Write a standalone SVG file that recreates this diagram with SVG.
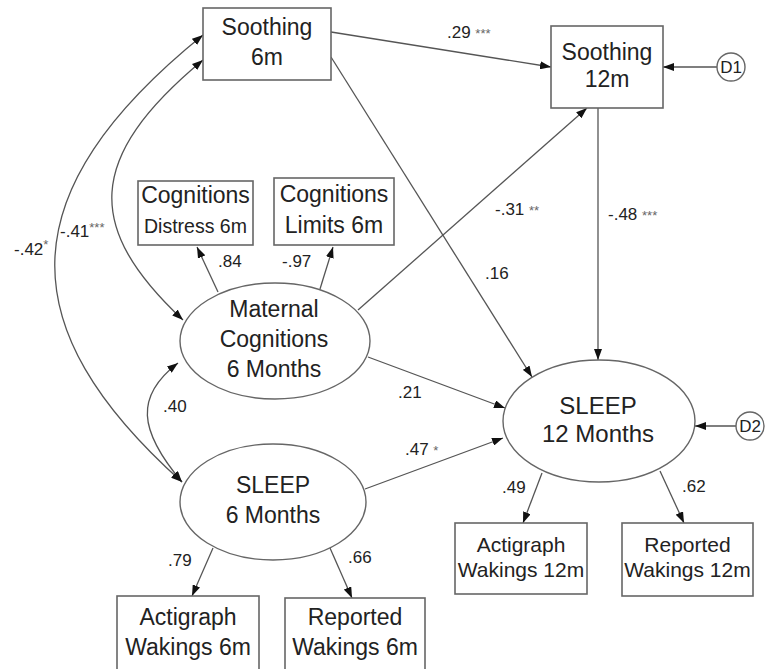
<svg xmlns="http://www.w3.org/2000/svg" width="765" height="669" viewBox="0 0 765 669">
<defs>
<marker id="ah" viewBox="0 0 11 8" refX="11" refY="4" markerWidth="11" markerHeight="8" markerUnits="userSpaceOnUse" orient="auto-start-reverse">
<path d="M0,0 L11,4 L0,8 z" fill="#111"/>
</marker>
<style>
.bx{fill:#fff;stroke:#666;stroke-width:1.6}
.el{fill:#fff;stroke:#666;stroke-width:1.4}
.ar{fill:none;stroke:#555;stroke-width:1.3;marker-end:url(#ah)}
.dar{fill:none;stroke:#555;stroke-width:1.3;marker-start:url(#ah);marker-end:url(#ah)}
text{font-family:"Liberation Sans",Arial,sans-serif;fill:#222}
.t{font-size:23px;text-anchor:middle}
.ts{font-size:21px;text-anchor:middle}
.lb{font-size:17px}
.st{font-size:13px;fill:#666}
</style>
</defs>
<rect width="765" height="669" fill="#fff"/>
<g id="connectors">
<line class="ar" x1="331" y1="32" x2="551" y2="67"/>
<line class="ar" x1="331" y1="57" x2="532" y2="377"/>
<line class="ar" x1="358" y1="310" x2="587" y2="108"/>
<line class="ar" x1="598" y1="108" x2="598" y2="360"/>
<line class="ar" x1="368" y1="357" x2="505" y2="408"/>
<line class="ar" x1="365" y1="489" x2="503" y2="438"/>
<line class="ar" x1="717" y1="67" x2="663" y2="67"/>
<line class="ar" x1="736" y1="426" x2="695" y2="426"/>
<line class="ar" x1="218" y1="292" x2="197" y2="247"/>
<line class="ar" x1="320" y1="289" x2="333" y2="247"/>
<line class="ar" x1="213" y1="548" x2="192" y2="596"/>
<line class="ar" x1="330" y1="548" x2="352" y2="598"/>
<line class="ar" x1="542" y1="473" x2="523" y2="523"/>
<line class="ar" x1="660" y1="471" x2="684" y2="523"/>
<path class="dar" d="M203,35 C9,192 9,327 182,482"/>
<path class="dar" d="M203,60 C85,158 85,228 183,320"/>
<path class="dar" d="M178,363 C135,396 138,430 182,482"/>
</g>
<g id="labels">
<text class="lb" x="447" y="38">.29 <tspan class="st">***</tspan></text>
<text class="lb" x="495" y="215">-.31 <tspan class="st">**</tspan></text>
<text class="lb" x="608" y="220">-.48 <tspan class="st">***</tspan></text>
<text class="lb" x="485" y="279">.16</text>
<text class="lb" x="398" y="398">.21</text>
<text class="lb" x="405" y="455">.47 <tspan class="st">*</tspan></text>
<text class="lb" x="218" y="267">.84</text>
<text class="lb" x="282" y="267">-.97</text>
<text class="lb" x="163" y="412">.40</text>
<text class="lb" x="168" y="566">.79</text>
<text class="lb" x="348" y="563">.66</text>
<text class="lb" x="502" y="493">.49</text>
<text class="lb" x="682" y="492">.62</text>
<text class="lb" x="14" y="255">-.42<tspan class="st" dy="-6">*</tspan></text>
<text class="lb" x="60" y="237">-.41<tspan class="st" dy="-5">***</tspan></text>
</g>
<g id="soothing6">
<rect class="bx" x="203" y="8" width="128" height="72"/>
<text class="t" x="267" y="35">Soothing</text>
<text class="t" x="267" y="65">6m</text>
</g>
<g id="soothing12">
<rect class="bx" x="551" y="26" width="112" height="82"/>
<text class="t" x="607" y="60">Soothing</text>
<text class="t" x="607" y="87">12m</text>
</g>
<g id="d1">
<circle class="el" cx="731" cy="67" r="14"/>
<text x="731" y="73" style="font-size:17px;text-anchor:middle">D1</text>
</g>
<g id="d2">
<circle class="el" cx="750" cy="426" r="14"/>
<text x="750" y="432" style="font-size:17px;text-anchor:middle">D2</text>
</g>
<g id="cogdistress">
<rect class="bx" x="138" y="181" width="115" height="64"/>
<text class="t" x="195.5" y="203">Cognitions</text>
<text x="195.5" y="233" style="font-size:19.5px;text-anchor:middle">Distress 6m</text>
</g>
<g id="coglimits">
<rect class="bx" x="274" y="178" width="120" height="67"/>
<text class="t" x="334" y="202">Cognitions</text>
<text class="t" x="334" y="233">Limits 6m</text>
</g>
<g id="maternal">
<ellipse class="el" cx="275" cy="341" rx="95" ry="58"/>
<text class="t" x="274" y="317">Maternal</text>
<text class="t" x="274" y="347">Cognitions</text>
<text class="t" x="274" y="377">6 Months</text>
</g>
<g id="sleep12">
<ellipse class="el" cx="599" cy="421" rx="96" ry="61"/>
<text x="598" y="414" style="font-size:24px;text-anchor:middle">SLEEP</text>
<text x="598" y="442" style="font-size:24px;text-anchor:middle">12 Months</text>
</g>
<g id="sleep6">
<ellipse class="el" cx="273" cy="502" rx="93" ry="58"/>
<text class="t" x="273" y="493">SLEEP</text>
<text class="t" x="273" y="523">6 Months</text>
</g>
<g id="acti6">
<rect class="bx" x="117" y="596" width="142" height="90"/>
<text class="t" x="188" y="625">Actigraph</text>
<text class="t" x="188" y="655">Wakings 6m</text>
</g>
<g id="rep6">
<rect class="bx" x="285" y="598" width="140" height="90"/>
<text class="t" x="355" y="625">Reported</text>
<text class="t" x="355" y="655">Wakings 6m</text>
</g>
<g id="acti12">
<rect class="bx" x="455" y="523" width="132" height="71"/>
<text class="ts" x="521" y="552">Actigraph</text>
<text class="ts" x="521" y="577">Wakings 12m</text>
</g>
<g id="rep12">
<rect class="bx" x="622" y="523" width="131" height="73"/>
<text class="ts" x="687.5" y="552">Reported</text>
<text class="ts" x="687.5" y="577">Wakings 12m</text>
</g>
</svg>
